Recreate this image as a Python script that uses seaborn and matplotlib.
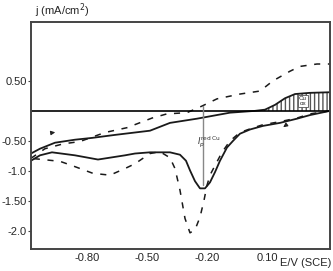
import numpy as np
import pandas as pd
import matplotlib
matplotlib.use("Agg")
import matplotlib.pyplot as plt
import seaborn as sns

# --- data ---
solid_fwd_E = [-1.08, -1.035, -0.96, -0.86, -0.775, -0.66, -0.56, -0.485, -0.385, -0.25, -0.085, 0.04, 0.09, 0.14, 0.19, 0.24, 0.315, 0.415]
solid_fwd_j = [-0.71, -0.63, -0.53, -0.48, -0.45, -0.40, -0.36, -0.33, -0.20, -0.13, -0.03, 0.0, 0.02, 0.10, 0.21, 0.28, 0.30, 0.31]

solid_rev_E = [0.415, 0.315, 0.25, 0.165, 0.08, 0.015, -0.035, -0.07, -0.10, -0.135, -0.16, -0.185, -0.21, -0.235, -0.26, -0.285, -0.305, -0.335, -0.385, -0.485, -0.56, -0.61, -0.745, -0.86, -0.975, -1.035, -1.08]
solid_rev_j = [0.0, -0.07, -0.13, -0.20, -0.25, -0.31, -0.38, -0.50, -0.61, -0.83, -1.02, -1.19, -1.29, -1.29, -1.17, -0.99, -0.83, -0.73, -0.69, -0.69, -0.71, -0.74, -0.81, -0.74, -0.69, -0.74, -0.83]

dash_fwd_E = [-1.08, -1.01, -0.92, -0.835, -0.71, -0.60, -0.475, -0.40, -0.30, -0.225, -0.15, -0.035, 0.065, 0.13, 0.215, 0.265, 0.35, 0.415]
dash_fwd_j = [-0.79, -0.63, -0.55, -0.51, -0.36, -0.28, -0.12, -0.05, -0.03, 0.08, 0.20, 0.28, 0.33, 0.50, 0.66, 0.74, 0.78, 0.78]

dash_rev_E = [0.415, 0.315, 0.25, 0.165, 0.08, 0.015, -0.035, -0.085, -0.125, -0.16, -0.185, -0.20, -0.215, -0.235, -0.26, -0.285, -0.31, -0.335, -0.36, -0.385, -0.435, -0.485, -0.56, -0.61, -0.685, -0.77, -0.875, -0.935, -1.08]
dash_rev_j = [0.0, -0.05, -0.12, -0.18, -0.23, -0.30, -0.36, -0.50, -0.69, -0.91, -1.07, -1.24, -1.49, -1.77, -1.98, -2.03, -1.79, -1.32, -0.96, -0.78, -0.68, -0.71, -0.88, -0.96, -1.07, -1.04, -0.91, -0.84, -0.79]

x_ticks = [-0.80, -0.50, -0.20, 0.10]
x_tick_labels = ["-0.80", "-0.50", "-0.20", "0.10"]
y_ticks = [0.5, -0.5, -1.0, -1.5, -2.0]
y_tick_labels = ["0.50", "-0.50", "-1.0", "-1.50", "-2.0"]

peak_E = -0.22
peak_top, peak_bottom = 0.08, -1.24

def branch(E, j, name, style):
    return pd.DataFrame({"E": E, "j": j, "branch": name, "style": style,
                         "order": np.arange(len(E))})

df = pd.concat([
    branch(solid_fwd_E, solid_fwd_j, "s_fwd", "solid"),
    branch(solid_rev_E, solid_rev_j, "s_rev", "solid"),
    branch(dash_fwd_E, dash_fwd_j, "d_fwd", "dashed"),
    branch(dash_rev_E, dash_rev_j, "d_rev", "dashed"),
], ignore_index=True)

sns.set_style("white")
plt.rcParams['font.family'] = ['Liberation Sans', 'DejaVu Sans']

fig = plt.figure(figsize=(3.33, 2.71), dpi=100)
ax = fig.add_axes([0.093, 0.081, 0.898, 0.838])

# hatched Cu oxidation area
fe = np.array(solid_fwd_E)
fj = np.array(solid_fwd_j)
xs = np.linspace(0.04, 0.415, 60)
ys = np.interp(xs, fe, fj)
ax.fill_between(xs, 0, ys, facecolor="white", edgecolor="#555555", hatch="||||", linewidth=0)

for name, g in df.groupby("branch"):
    style = g["style"].iloc[0]
    sns.lineplot(data=g, x="E", y="j", sort=False, ax=ax, color="#1a1a1a",
                 linewidth=1.3 if style == "solid" else 1.1,
                 linestyle="-" if style == "solid" else (0, (4, 5)),
                 legend=False, estimator=None)

ax.axhline(0, color="black", linewidth=1.2)
ax.plot([peak_E, peak_E], [peak_top, peak_bottom], color="#888888", linewidth=1.0)
ax.text(peak_E - 0.03, -0.52, r"$I_p^{\mathrm{red\ Cu}}$", fontsize=6, ha="left", va="center", color="#333333")
ax.text(0.28, 0.165, "Cu\nox", fontsize=4.5, ha="center", va="center", linespacing=0.9,
        bbox=dict(facecolor="white", edgecolor="#555555", pad=0.8, linewidth=0.6))

ax.annotate("", xy=(-0.945, -0.35), xytext=(-0.985, -0.37),
            arrowprops=dict(arrowstyle="-|>", color="#222222", lw=0.8, mutation_scale=6))
ax.annotate("", xy=(0.17, -0.30), xytext=(0.21, -0.20),
            arrowprops=dict(arrowstyle="-|>", color="#222222", lw=0.8, mutation_scale=6))

ax.set_xlim(-1.08, 0.415)
ax.set_ylim(-2.3, 1.48)
ax.set_xticks(x_ticks)
ax.set_xticklabels(x_tick_labels)
ax.set_yticks(y_ticks)
ax.set_yticklabels(y_tick_labels)
ax.tick_params(axis="x", direction="in", length=3, labelsize=8, pad=3, color="#444444")
ax.tick_params(axis="y", direction="out", length=2.5, labelsize=8, pad=0.5, color="#444444", left=True)
ax.set_xlabel("")
ax.set_ylabel("")
for s in ax.spines.values():
    s.set_color("#444444")
    s.set_linewidth(1.4)

fig.text(0.105, 0.96, "j (mA/cm$^2$)", fontsize=8, ha="left", va="center")
fig.text(0.84, 0.03, "E/V (SCE)", fontsize=8, ha="left", va="center")

fig.savefig("out.png", dpi=100)
